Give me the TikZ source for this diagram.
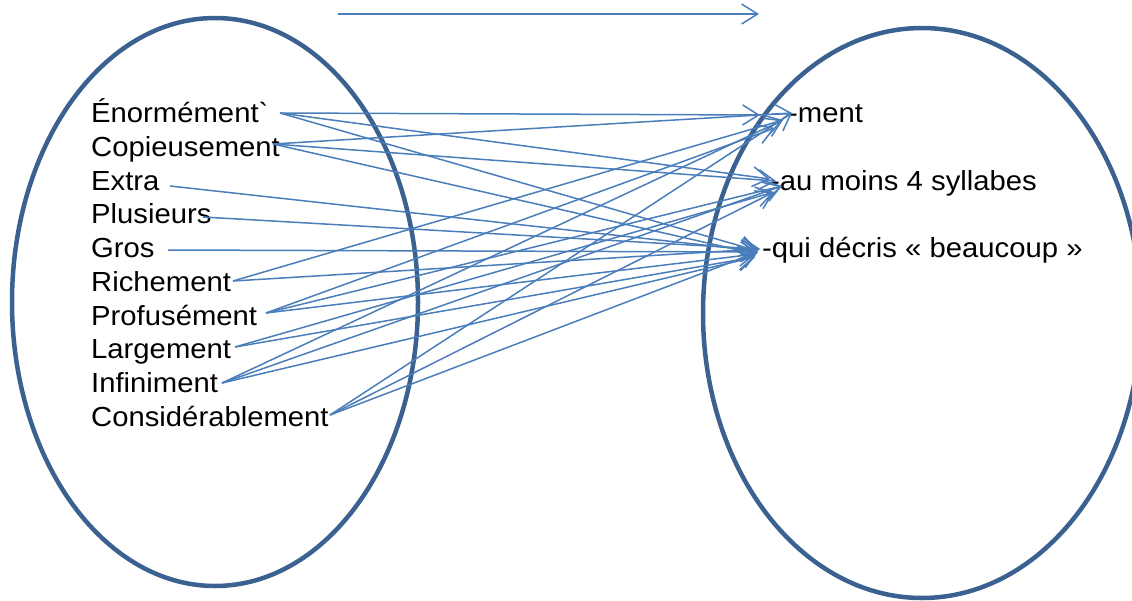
\documentclass[tikz,border=0pt]{standalone}
\usepackage{fontspec}
\setmainfont{Liberation Sans}
\newfontfamily\wfont{Liberation Sans}[FakeStretch=1.06]
\usetikzlibrary{arrows.meta}
\definecolor{lineblue}{HTML}{4A7EBB}
\definecolor{ringblue}{HTML}{3A6190}
\begin{document}
\begin{tikzpicture}[x=1pt,y=-1pt,
  ring/.style={draw=ringblue,line width=4.5pt},
  word/.style={anchor=base west,inner sep=0pt,font=\wfont\fontsize{27.6}{27.6}\selectfont},
  link/.style={draw=lineblue,line width=1.5pt,-{Straight Barb[length=16pt,width=20pt]}}]
\useasboundingbox (0,0) rectangle (1132,600);
\clip (0,0) rectangle (1132,600);
% sets
\draw[ring] (215,302) ellipse [x radius=203pt, y radius=284pt];
\draw[ring] (922,313) ellipse [x radius=219pt, y radius=285pt];
% left words
\node[word] (E) at (91,122) {Énormément`};
\node[word] (C) at (91,156) {Copieusement};
\node[word] (X) at (91,190) {Extra};
\node[word] (P) at (91,223) {Plusieurs};
\node[word] (G) at (91,257) {Gros};
\node[word] (R) at (91,291) {Richement};
\node[word] (F) at (91,325) {Profusément};
\node[word] (L) at (91,358) {Largement};
\node[word] (I) at (91,392) {Infiniment};
\node[word] (K) at (91,426) {Considérablement};
% right words
\node[word] (tm) at (788,122) {-ment};
\node[word] (ta) at (770,190) {-au moins 4 syllabes};
\node[word] (tq) at (762,257) {-qui décris « beaucoup »};
% top arrow
\coordinate (t0) at (338,14);
\coordinate (t1) at (759,14);
\draw[link] (t0) -- (t1);
% source points
\coordinate (sE) at (280,113);
\coordinate (sC) at (273,144);
\coordinate (sX) at (170,186);
\coordinate (sP) at (203,217);
\coordinate (sG) at (168,250);
\coordinate (sR) at (233,281);
\coordinate (sF) at (266,313);
\coordinate (sL) at (235,347);
\coordinate (sI) at (222,383);
\coordinate (sK) at (330,415);
% target points
\coordinate (m0) at (760,115);
\coordinate (m1) at (792,113);
\coordinate (m2) at (783,120);
\coordinate (m3) at (775,128);
\coordinate (a1) at (770,179);
\coordinate (a2) at (776,181);
\coordinate (a3) at (782,186);
\coordinate (a4) at (774,192);
\coordinate (q1) at (758,251);
\coordinate (q2) at (756,254);
\coordinate (q3) at (760,249);
\coordinate (q4) at (755,257);
\coordinate (q5) at (758,252);
% connectors
\draw[link] (sE) -- (m0);
\draw[link] (sE) -- (a1);
\draw[link] (sE) -- (q1);
\draw[link] (sC) -- (m1);
\draw[link] (sC) -- (a2);
\draw[link] (sC) -- (q2);
\draw[link] (sX) -- (q1);
\draw[link] (sP) -- (q3);
\draw[link] (sG) -- (q5);
\draw[link] (sR) -- (m2);
\draw[link] (sR) -- (q3);
\draw[link] (sF) -- (m3);
\draw[link] (sF) -- (a3);
\draw[link] (sF) -- (q2);
\draw[link] (sL) -- (a4);
\draw[link] (sL) -- (q4);
\draw[link] (sI) -- (m2);
\draw[link] (sI) -- (a3);
\draw[link] (sI) -- (q4);
\draw[link] (sK) -- (m1);
\draw[link] (sK) -- (a4);
\draw[link] (sK) -- (q5);
\end{tikzpicture}
\end{document}
